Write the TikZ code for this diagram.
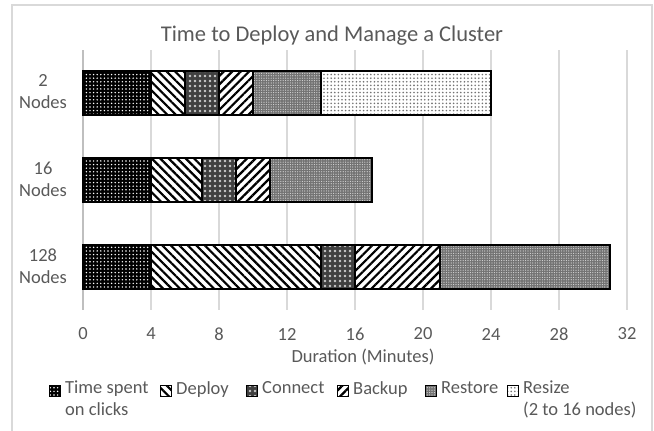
\documentclass[tikz,border=0pt]{standalone}
\usepackage{fontspec}
\setmainfont{Carlito}
\usetikzlibrary{patterns.meta}
\definecolor{txtgrey}{HTML}{595959}
\definecolor{gridgrey}{HTML}{D9D9D9}
\definecolor{axisgrey}{HTML}{BFBFBF}

% one bar segment: style, top of bar, from (min), to (min)
\newcommand{\barseg}[4]{\draw[#1] ({83+17*#3},#2) rectangle ({83+17*#4},{#2+44});}

\begin{document}
\begin{tikzpicture}[x=1pt,y=-1pt,
  lbl/.style={text=txtgrey,font=\fontsize{18.5}{22}\selectfont,inner sep=0pt},
  seg/.style={draw=black,line width=1.6pt},
  clicks/.style={seg,preaction={fill=black},pattern={Dots[radius=0.8pt,distance=3.6pt]},pattern color=white},
  deploy/.style={seg,preaction={fill=white},pattern={Lines[angle=-45,distance=6pt,line width=2.2pt]},pattern color=black},
  connect/.style={seg,preaction={fill=black!75},pattern={Dots[radius=1.3pt,distance=5pt]},pattern color=white!80!black},
  backup/.style={seg,preaction={fill=white},pattern={Lines[angle=45,distance=6pt,line width=2.2pt]},pattern color=black},
  restore/.style={seg,preaction={fill=black!55},pattern={Dots[radius=0.6pt,distance=2.4pt]},pattern color=white!85!black},
  resize/.style={seg,preaction={fill=white},pattern={Dots[radius=0.9pt,distance=3.6pt]},pattern color=black!55},
  key/.style={line width=0.8pt}]
\useasboundingbox (0,0) rectangle (654,431);
\clip (0,0) rectangle (654,431);

% chart frame
\draw[gridgrey,line width=1.5pt] (12,445) -- (12,5) -- (652,5) -- (652,445);

% grid and axis
\foreach \k in {1,...,8}
  \draw[gridgrey,line width=1.5pt] ({83+68*\k},50) -- ({83+68*\k},310);
\draw[axisgrey,line width=1.5pt] (83,50) -- (83,310);

\node[lbl,font=\fontsize{22.5}{26}\selectfont] (title) at (332,36) {Time to Deploy and Manage a Cluster};

% 2 nodes
\barseg{clicks}{71}{0}{4}
\barseg{deploy}{71}{4}{6}
\barseg{connect}{71}{6}{8}
\barseg{backup}{71}{8}{10}
\barseg{restore}{71}{10}{14}
\barseg{resize}{71}{14}{24}
% 16 nodes
\barseg{clicks}{158}{0}{4}
\barseg{deploy}{158}{4}{7}
\barseg{connect}{158}{7}{9}
\barseg{backup}{158}{9}{11}
\barseg{restore}{158}{11}{17}
% 128 nodes
\barseg{clicks}{245}{0}{4}
\barseg{deploy}{245}{4}{14}
\barseg{connect}{245}{14}{16}
\barseg{backup}{245}{16}{21}
\barseg{restore}{245}{21}{31}

\node[lbl,align=center] (c2) at (43,92) {2\\Nodes};
\node[lbl,align=center] (c16) at (43,179) {16\\Nodes};
\node[lbl,align=center] (c128) at (43,266) {128\\Nodes};

\foreach \k in {0,...,8}
  \node[lbl] (t\k) at ({83+68*\k},334) {\pgfmathparse{int(4*\k)}\pgfmathresult};
\node[lbl] (xtitle) at (363,357) {Duration (Minutes)};

% legend
\draw[clicks,key] (49,385) rectangle (60,396);
\node[lbl,anchor=north west,align=left] (lclicks) at (65,381) {Time spent\\on clicks};
\draw[deploy,key] (160,385) rectangle (171,396);
\node[lbl,anchor=north west] (ldeploy) at (176,381) {Deploy};
\draw[connect,key] (246,385) rectangle (257,396);
\node[lbl,anchor=north west] (lconnect) at (262,381) {Connect};
\draw[backup,key] (337,385) rectangle (348,396);
\node[lbl,anchor=north west] (lbackup) at (353,381) {Backup};
\draw[restore,key] (425,385) rectangle (436,396);
\node[lbl,anchor=north west] (lrestore) at (441,381) {Restore};
\draw[resize,key] (507,385) rectangle (518,396);
\node[lbl,anchor=north west,align=left] (lresize) at (523,381) {Resize\\(2 to 16 nodes)};
\end{tikzpicture}
\end{document}
